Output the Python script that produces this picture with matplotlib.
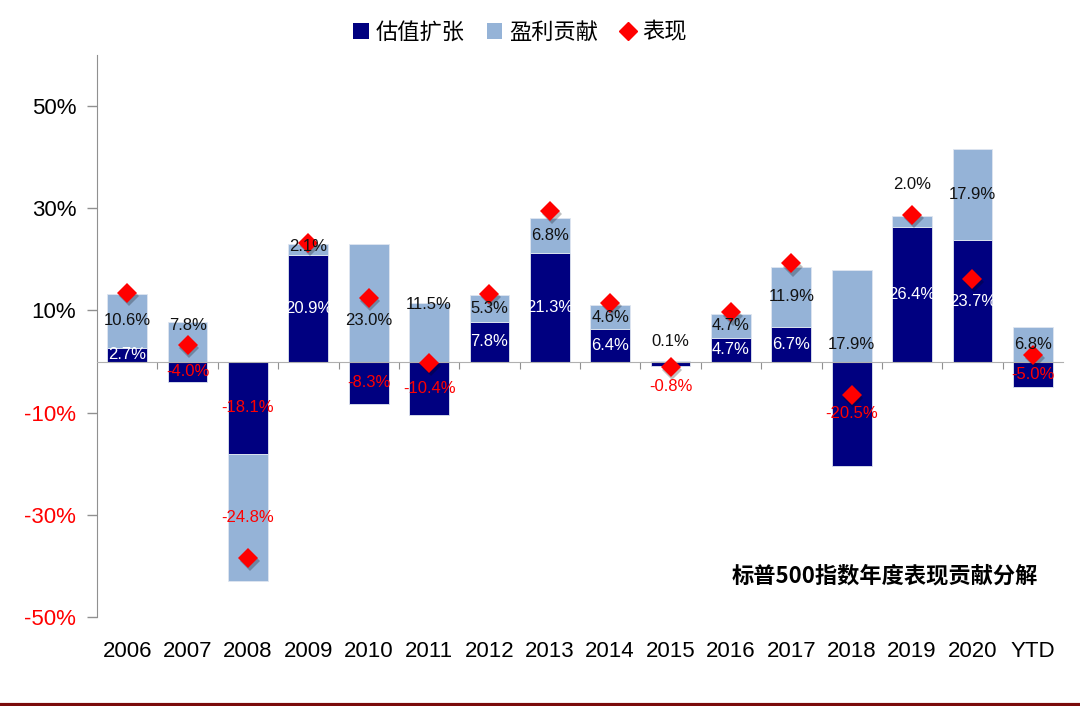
import matplotlib
matplotlib.use("Agg")
import matplotlib.pyplot as plt
from matplotlib.lines import Line2D
from matplotlib.patches import Patch
import numpy as np

plt.rcParams['font.family'] = ['Liberation Sans', 'Noto Sans CJK SC', 'DejaVu Sans']

years = ['2006', '2007', '2008', '2009', '2010', '2011', '2012', '2013',
         '2014', '2015', '2016', '2017', '2018', '2019', '2020', 'YTD']
valuation = [2.7, -4.0, -18.1, 20.9, -8.3, -10.4, 7.8, 21.3,
             6.4, -0.8, 4.7, 6.7, -20.5, 26.4, 23.7, -5.0]
earnings = [10.6, 7.8, -24.8, 2.1, 23.0, 11.5, 5.3, 6.8,
            4.6, 0.1, 4.7, 11.9, 17.9, 2.0, 17.9, 6.8]
performance = [13.5, 3.3, -38.4, 23.3, 12.5, -0.2, 13.3, 29.4,
               11.4, -1.0, 9.6, 19.2, -6.5, 28.6, 16.1, 1.2]
yticks = [-50, -30, -10, 10, 30, 50]
legend_labels = ['估值扩张', '盈利贡献', '表现']
title_text = '标普500指数年度表现贡献分解'

NAVY = '#000080'
LIGHT = '#95B3D7'
RED = '#FF0000'

# label position overrides (in % units) for labels not placed at segment centre
earn_label_override = {1: 7.0, 3: 22.6, 4: 8.0, 5: 11.2, 9: 3.9, 12: 3.3, 13: 34.7}
val_label_override = {9: -4.9}

fig = plt.figure(figsize=(10.8, 7.06), dpi=100)
ax = fig.add_axes([97/1080, 1-617/706, (1063-97)/1080, (617-55)/706])

x = np.arange(len(years))
val = np.array(valuation)
earn = np.array(earnings)
# Excel-like stacking: positives on positive side, negatives on negative side
earn_bottom = np.where((earn >= 0) == (val >= 0), val, 0.0)

w = 0.66
ax.bar(x, val, width=w, color=NAVY, edgecolor='#dfe6f0', linewidth=0.6, zorder=2)
ax.bar(x, earn, width=w, bottom=earn_bottom, color=LIGHT, edgecolor='#dfe6f0',
       linewidth=0.6, zorder=2)

# shadow + diamonds
ax.plot(x + 0.03, np.array(performance) - 0.6, linestyle='none', marker='D',
        markersize=10.5, color='#00000040', markeredgewidth=0, zorder=3)
ax.plot(x, performance, linestyle='none', marker='D', markersize=10.5,
        color=RED, markeredgewidth=0, zorder=4)

for i in range(len(years)):
    v = val[i]
    yv = val_label_override.get(i, v / 2)
    ax.text(x[i], yv, f'{v:.1f}%', ha='center', va='center', fontsize=12,
            color='white' if v >= 0 else RED, zorder=5)
    e = earn[i]
    ye = earn_label_override.get(i, earn_bottom[i] + e / 2)
    ax.text(x[i], ye, f'{e:.1f}%', ha='center', va='center', fontsize=12,
            color='#111111' if e >= 0 else RED, zorder=5)

ax.set_xlim(-0.5, len(years) - 0.5)
ax.set_ylim(-50, 60)
ax.set_yticks(yticks)
ax.set_yticklabels([f'{t}%' for t in yticks], fontsize=16)
for lab, t in zip(ax.get_yticklabels(), yticks):
    lab.set_color(RED if t < 0 else 'black')
ax.tick_params(axis='y', direction='out', length=7, color='#909090', width=1, pad=8)

for s in ['top', 'right']:
    ax.spines[s].set_visible(False)
ax.spines['left'].set_color('#909090')
ax.spines['bottom'].set_position(('data', 0))
ax.spines['bottom'].set_color('#b0b0b0')
ax.set_xticks(np.arange(len(years) - 1) + 0.5)
ax.set_xticklabels([])
ax.tick_params(axis='x', which='major', direction='out', length=5, color='#909090')

for i, yr in enumerate(years):
    ax.text(x[i], -0.062, yr, transform=ax.get_xaxis_transform(), ha='center',
            va='center', fontsize=16)

handles = [Patch(facecolor=NAVY, edgecolor='none'),
           Patch(facecolor=LIGHT, edgecolor='none'),
           Line2D([], [], linestyle='none', marker='D', color=RED, markersize=9)]
fig.legend(handles, legend_labels, loc='center', bbox_to_anchor=(520/1080, 1-32/706),
           ncol=3, frameon=False, prop={'family': 'Noto Sans CJK SC', 'size': 16},
           handlelength=0.7, handleheight=0.7, handletextpad=0.3, columnspacing=1.0)

fig.text(1038/1080, 1-576/706, title_text, ha='right', va='center',
         fontsize=16, fontweight='bold', family=['Noto Sans CJK SC'])

fig.add_artist(Line2D([0, 1], [1.5/706, 1.5/706], color='#7a0a0a', linewidth=3,
                      transform=fig.transFigure))

fig.savefig('out.png', dpi=100)
